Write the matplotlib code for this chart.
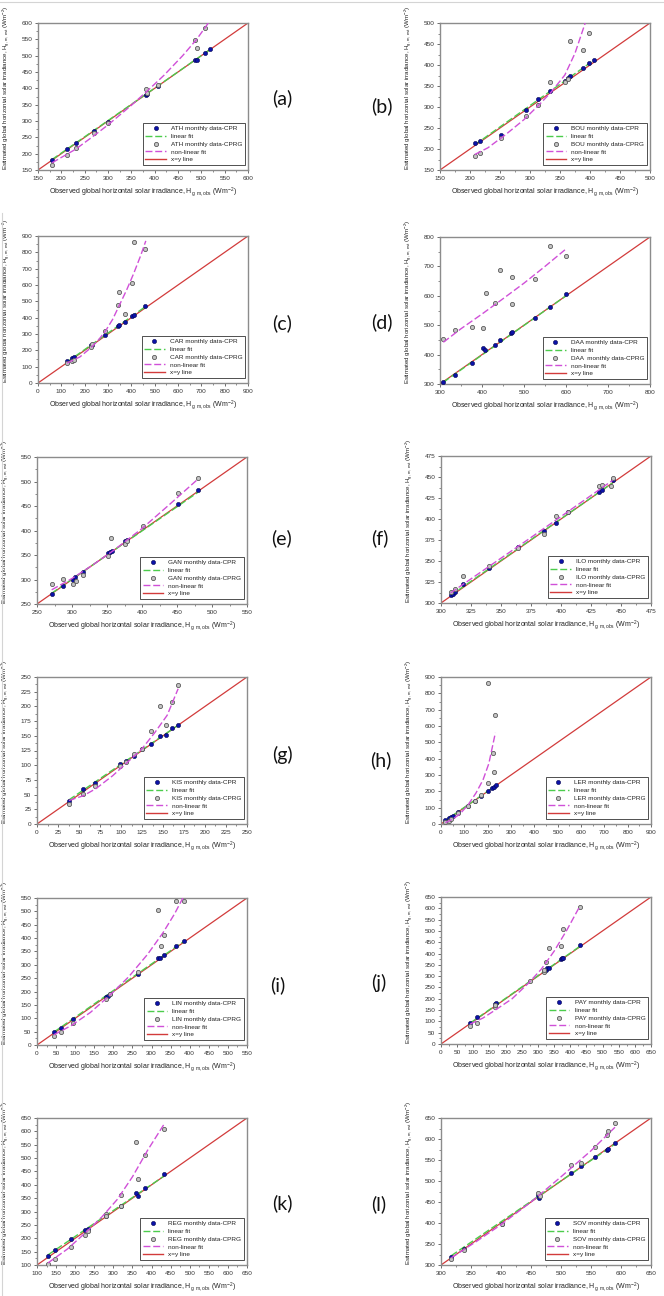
import matplotlib
matplotlib.use("Agg")
import matplotlib.pyplot as plt
from matplotlib.ticker import MultipleLocator, AutoMinorLocator
from matplotlib.lines import Line2D

plt.rcParams['font.family'] = ['Liberation Sans', 'DejaVu Sans']
plt.rcParams['mathtext.default'] = 'regular'

# ---- data (Wm-2) ----
# (a) ATH
ath_cpr_obs = [180, 212, 231, 269, 299, 381, 384, 408, 486, 490, 507, 518]
ath_cpr_est = [181, 214, 232, 269, 297, 381, 383, 407, 487, 488, 507, 520]
ath_cprg_obs = [180, 212, 231, 269, 299, 381, 384, 408, 486, 490, 507]
ath_cprg_est = [166, 196, 217, 263, 293, 399, 387, 411, 547, 524, 584]
ath_lin_x = [180, 518]
ath_lin_y = [182, 518]
ath_nl_x = [180, 230, 270, 300, 350, 385, 420, 460, 490, 515]
ath_nl_y = [172, 213, 255, 288, 348, 393, 440, 500, 550, 600]

# (b) BOU
bou_cpr_obs = [208, 216, 252, 293, 314, 334, 359, 363, 367, 389, 398, 407]
bou_cpr_est = [214, 218, 234, 292, 318, 337, 362, 369, 373, 392, 405, 413]
bou_cprg_obs = [208, 216, 252, 293, 314, 334, 359, 363, 367, 389, 398]
bou_cprg_est = [183, 190, 226, 278, 305, 360, 360, 366, 456, 436, 476]
bou_lin_x = [208, 407]
bou_lin_y = [210, 412]
bou_nl_x = [208, 230, 260, 290, 315, 335, 358, 375, 392]
bou_nl_y = [187, 203, 235, 270, 305, 335, 376, 428, 500]

# (c) CAR
car_cpr_obs = [124, 146, 153, 225, 230, 286, 342, 346, 371, 403, 410, 458]
car_cpr_est = [133, 154, 160, 230, 235, 291, 350, 354, 375, 410, 418, 469]
car_cprg_obs = [124, 146, 153, 225, 230, 286, 342, 346, 371, 403, 410, 458]
car_cprg_est = [122, 136, 140, 222, 238, 318, 476, 560, 422, 615, 865, 820]
car_lin_x = [124, 458]
car_lin_y = [128, 465]
car_nl_x = [124, 180, 230, 260, 290, 320, 350, 380, 410, 440, 462]
car_nl_y = [122, 160, 220, 265, 320, 390, 480, 570, 670, 780, 870]

# (d) DAA
daa_cpr_obs = [308, 336, 375, 403, 407, 431, 443, 468, 472, 525, 562, 599]
daa_cpr_est = [308, 330, 372, 422, 414, 431, 450, 472, 476, 523, 562, 605]
daa_cprg_obs = [308, 336, 375, 403, 409, 431, 443, 471, 472, 525, 562, 599]
daa_cprg_est = [453, 483, 495, 491, 610, 575, 689, 573, 664, 658, 769, 737]
daa_lin_x = [308, 600]
daa_lin_y = [306, 600]
daa_nl_x = [308, 350, 400, 450, 500, 550, 598]
daa_nl_y = [442, 488, 538, 590, 643, 700, 757]

# (e) GAN
gan_cpr_obs = [271, 287, 301, 304, 315, 352, 354, 357, 376, 378, 452, 480]
gan_cpr_est = [270, 286, 298, 306, 316, 354, 356, 358, 379, 381, 455, 482]
gan_cprg_obs = [271, 287, 302, 305, 315, 352, 356, 376, 378, 402, 452, 480]
gan_cprg_est = [291, 301, 290, 297, 310, 348, 384, 373, 378, 409, 476, 507]
gan_lin_x = [271, 480]
gan_lin_y = [272, 478]
gan_nl_x = [271, 300, 330, 360, 400, 440, 480]
gan_nl_y = [279, 302, 330, 360, 404, 454, 505]

# (f) ILO
ilo_cpr_obs = [308, 310, 312, 318, 340, 364, 386, 396, 406, 432, 434, 443]
ilo_cpr_est = [309, 311, 313, 323, 342, 367, 386, 395, 408, 432, 435, 446]
ilo_cprg_obs = [308, 312, 318, 340, 364, 386, 396, 406, 432, 434, 442, 443]
ilo_cprg_est = [313, 317, 332, 344, 365, 382, 403, 408, 439, 441, 439, 449]
ilo_lin_x = [308, 443]
ilo_lin_y = [309, 443]
ilo_nl_x = [308, 375, 443]
ilo_nl_y = [312, 378, 446]

# (g) KIS
kis_cpr_obs = [38, 55, 69, 99, 106, 116, 125, 136, 147, 153, 161, 168]
kis_cpr_est = [39, 59, 70, 102, 107, 116, 127, 136, 149, 152, 163, 169]
kis_cprg_obs = [38, 55, 69, 99, 106, 116, 125, 136, 147, 153, 161, 168]
kis_cprg_est = [34, 51, 64, 98, 106, 119, 127, 159, 200, 168, 208, 236]
kis_lin_x = [38, 168]
kis_lin_y = [41, 168]
kis_nl_x = [38, 55, 70, 90, 110, 125, 140, 155, 168]
kis_nl_y = [40, 48, 60, 82, 108, 128, 155, 185, 230]

# (h) LER
ler_cpr_obs = [19, 33, 42, 50, 73, 115, 145, 172, 201, 219, 228, 236]
ler_cpr_est = [24, 35, 45, 51, 75, 112, 141, 173, 202, 222, 228, 238]
ler_cprg_obs = [19, 33, 42, 73, 115, 145, 172, 201, 201, 222, 228, 233]
ler_cprg_est = [10, 20, 31, 65, 112, 141, 177, 864, 248, 432, 320, 666]
ler_lin_x = [19, 236]
ler_lin_y = [22, 236]
ler_nl_x = [19, 50, 80, 115, 150, 180, 205, 233]
ler_nl_y = [8, 30, 60, 115, 190, 270, 370, 558]

# (i) LIN
lin_cpr_obs = [44, 63, 93, 181, 186, 191, 265, 317, 322, 332, 363, 385]
lin_cpr_est = [47, 65, 97, 181, 184, 191, 264, 325, 327, 336, 370, 390]
lin_cprg_obs = [44, 63, 93, 181, 191, 265, 317, 324, 332, 363, 385]
lin_cprg_est = [34, 50, 82, 172, 189, 273, 506, 370, 412, 537, 537]
lin_lin_x = [44, 385]
lin_lin_y = [48, 388]
lin_nl_x = [44, 90, 140, 190, 240, 290, 330, 360, 382]
lin_nl_y = [38, 73, 122, 185, 255, 340, 420, 490, 550]

# (j) PAY
pay_cpr_obs = [90, 112, 167, 169, 320, 324, 329, 334, 371, 374, 377, 430]
pay_cpr_est = [94, 118, 176, 182, 325, 328, 334, 338, 376, 379, 382, 437]
pay_cprg_obs = [90, 112, 167, 168, 277, 318, 319, 326, 334, 371, 377, 429]
pay_cprg_est = [80, 95, 165, 173, 279, 318, 327, 363, 425, 435, 507, 606]
pay_lin_x = [90, 430]
pay_lin_y = [92, 432]
pay_nl_x = [90, 130, 170, 220, 270, 310, 350, 390, 430]
pay_nl_y = [88, 115, 152, 200, 268, 330, 410, 505, 610]

# (k) REG
reg_cpr_obs = [129, 146, 190, 227, 233, 280, 320, 358, 364, 384, 432]
reg_cpr_est = [135, 155, 197, 232, 234, 282, 322, 368, 360, 388, 439]
reg_cprg_obs = [129, 146, 190, 227, 234, 281, 281, 319, 319, 358, 364, 384, 432]
reg_cprg_est = [104, 124, 167, 211, 227, 292, 282, 361, 322, 559, 423, 511, 607]
reg_lin_x = [129, 432]
reg_lin_y = [138, 432]
reg_nl_x = [129, 180, 230, 270, 310, 350, 390, 432]
reg_nl_y = [108, 160, 225, 280, 345, 430, 530, 625]

# (l) SOV
sov_cpr_obs = [317, 338, 401, 462, 464, 517, 533, 557, 576, 579, 590]
sov_cpr_est = [320, 338, 398, 466, 459, 520, 536, 556, 574, 577, 590]
sov_cprg_obs = [317, 338, 401, 462, 465, 517, 533, 557, 576, 579, 590]
sov_cprg_est = [314, 336, 398, 472, 465, 538, 544, 581, 610, 620, 639]
sov_lin_x = [317, 590]
sov_lin_y = [322, 588]
sov_nl_x = [317, 360, 400, 450, 500, 550, 590]
sov_nl_y = [317, 357, 396, 450, 510, 572, 628]

stations = ['ATH', 'BOU', 'CAR', 'DAA', 'GAN', 'ILO', 'KIS', 'LER', 'LIN', 'PAY', 'REG', 'SOV']
panel_tags = ['(a)', '(b)', '(c)', '(d)', '(e)', '(f)', '(g)', '(h)', '(i)', '(j)', '(k)', '(l)']
axis_lo = [150, 150, 0, 300, 250, 300, 0, 0, 0, 0, 100, 300]
axis_hi = [600, 500, 900, 800, 550, 475, 250, 900, 550, 650, 650, 650]
axis_step = [50, 50, 100, 100, 50, 25, 25, 100, 50, 50, 50, 50]

series = [
    (ath_cpr_obs, ath_cpr_est, ath_cprg_obs, ath_cprg_est, ath_lin_x, ath_lin_y, ath_nl_x, ath_nl_y),
    (bou_cpr_obs, bou_cpr_est, bou_cprg_obs, bou_cprg_est, bou_lin_x, bou_lin_y, bou_nl_x, bou_nl_y),
    (car_cpr_obs, car_cpr_est, car_cprg_obs, car_cprg_est, car_lin_x, car_lin_y, car_nl_x, car_nl_y),
    (daa_cpr_obs, daa_cpr_est, daa_cprg_obs, daa_cprg_est, daa_lin_x, daa_lin_y, daa_nl_x, daa_nl_y),
    (gan_cpr_obs, gan_cpr_est, gan_cprg_obs, gan_cprg_est, gan_lin_x, gan_lin_y, gan_nl_x, gan_nl_y),
    (ilo_cpr_obs, ilo_cpr_est, ilo_cprg_obs, ilo_cprg_est, ilo_lin_x, ilo_lin_y, ilo_nl_x, ilo_nl_y),
    (kis_cpr_obs, kis_cpr_est, kis_cprg_obs, kis_cprg_est, kis_lin_x, kis_lin_y, kis_nl_x, kis_nl_y),
    (ler_cpr_obs, ler_cpr_est, ler_cprg_obs, ler_cprg_est, ler_lin_x, ler_lin_y, ler_nl_x, ler_nl_y),
    (lin_cpr_obs, lin_cpr_est, lin_cprg_obs, lin_cprg_est, lin_lin_x, lin_lin_y, lin_nl_x, lin_nl_y),
    (pay_cpr_obs, pay_cpr_est, pay_cprg_obs, pay_cprg_est, pay_lin_x, pay_lin_y, pay_nl_x, pay_nl_y),
    (reg_cpr_obs, reg_cpr_est, reg_cprg_obs, reg_cprg_est, reg_lin_x, reg_lin_y, reg_nl_x, reg_nl_y),
    (sov_cpr_obs, sov_cpr_est, sov_cprg_obs, sov_cprg_est, sov_lin_x, sov_lin_y, sov_nl_x, sov_nl_y),
]

# ---- layout in pixels (left, top) of each plot box, and tag centres ----
W, H = 664, 1296
box_w, box_h = 210, 147
box_pos = [(38, 23), (440, 23), (38, 236), (440, 237), (37, 457), (441, 456),
           (37, 677), (441, 677), (37, 898), (441, 897), (37, 1118), (441, 1118)]
tag_pos = [(282, 98), (382, 106), (282, 323), (382, 322), (282, 538), (380, 538),
           (282, 755), (381, 760), (278, 985), (379, 983), (282, 1203), (379, 1204)]

fig = plt.figure(figsize=(W / 100, H / 100), dpi=100)

# light frame lines of the original mosaic
fig.add_artist(Line2D([0, 1], [1 - 2 / H, 1 - 2 / H], color='#d4d4d4', lw=0.8))
fig.add_artist(Line2D([2 / W, 2 / W], [0, 1 - 213 / H], color='#d4d4d4', lw=0.8))

red = '#d23b3b'
green = '#4ccc4c'
magenta = '#d050d8'

for k in range(12):
    cpr_x, cpr_y, cprg_x, cprg_y, lx, ly, nx, ny = series[k]
    px, py = box_pos[k]
    ax = fig.add_axes([px / W, 1 - (py + box_h) / H, box_w / W, box_h / H])
    lo, hi, st = axis_lo[k], axis_hi[k], axis_step[k]
    name = stations[k]
    gap = '  ' if name == 'DAA' else ' '

    ax.plot([lo, hi], [lo, hi], color=red, lw=0.9, zorder=2)
    ax.plot(lx, ly, color=green, lw=1.0, ls=(0, (5, 2)), zorder=3)
    ax.plot(cpr_x, cpr_y, 'o', ms=3.0, mfc='#0b12a8', mec='#050550', mew=0.4, ls='none', zorder=4)
    ax.plot(cprg_x, cprg_y, 'o', ms=3.0, mfc='#c4c4c4', mec='#5a5a5a', mew=0.6, ls='none', zorder=4)
    ax.plot(nx, ny, color=magenta, lw=1.0, ls=(0, (5, 2)), zorder=5)

    ax.set_xlim(lo, hi)
    ax.set_ylim(lo, hi)
    ax.xaxis.set_major_locator(MultipleLocator(st))
    ax.yaxis.set_major_locator(MultipleLocator(st))
    ax.xaxis.set_minor_locator(AutoMinorLocator(2))
    ax.yaxis.set_minor_locator(AutoMinorLocator(2))
    ax.tick_params(which='major', direction='out', length=2.5, width=0.5,
                   labelsize=4.6, pad=1.5, colors='#333333')
    ax.tick_params(which='minor', direction='out', length=1.5, width=0.4, colors='#333333')
    for s in ax.spines.values():
        s.set_color('#8c8c8c')
        s.set_linewidth(1.0)

    ax.set_xlabel(r'Observed global horizontal solar irradiance, H$_{g,m,obs}$ (Wm$^{-2}$)',
                  fontsize=5.0, color='#222222', labelpad=4)
    ax.set_ylabel(r'Estimated global horizontal solar irradiance, H$_{g,m,est}$ (Wm$^{-2}$)',
                  fontsize=4.4, color='#222222')
    ax.yaxis.set_label_coords(-0.125, 0.56)

    handles = [
        Line2D([], [], marker='o', ls='none', ms=3.0, mfc='#0b12a8', mec='#050550', mew=0.4),
        Line2D([], [], color=green, lw=1.0, ls=(0, (5, 2))),
        Line2D([], [], marker='o', ls='none', ms=3.0, mfc='#c4c4c4', mec='#5a5a5a', mew=0.6),
        Line2D([], [], color=magenta, lw=1.0, ls=(0, (5, 2))),
        Line2D([], [], color=red, lw=1.0),
    ]
    labels = [name + ' monthly data-CPR', 'linear fit', name + gap + 'monthly data-CPRG',
              'non-linear fit', 'x=y line']
    leg = ax.legend(handles, labels, loc='lower right', bbox_to_anchor=(0.985, 0.035),
                    borderaxespad=0, fontsize=4.6, frameon=True, fancybox=False,
                    handlelength=3.2, handletextpad=0.8, labelspacing=0.35,
                    borderpad=0.4, framealpha=1)
    leg.get_frame().set_edgecolor('#333333')
    leg.get_frame().set_linewidth(0.6)
    for t in leg.get_texts():
        t.set_color('#222222')

    tx, ty = tag_pos[k]
    fig.text(tx / W, 1 - ty / H, panel_tags[k], fontsize=14, ha='center', va='center',
             family=['Lato', 'DejaVu Sans'], color='#111111')

fig.savefig('out.png', dpi=100)
